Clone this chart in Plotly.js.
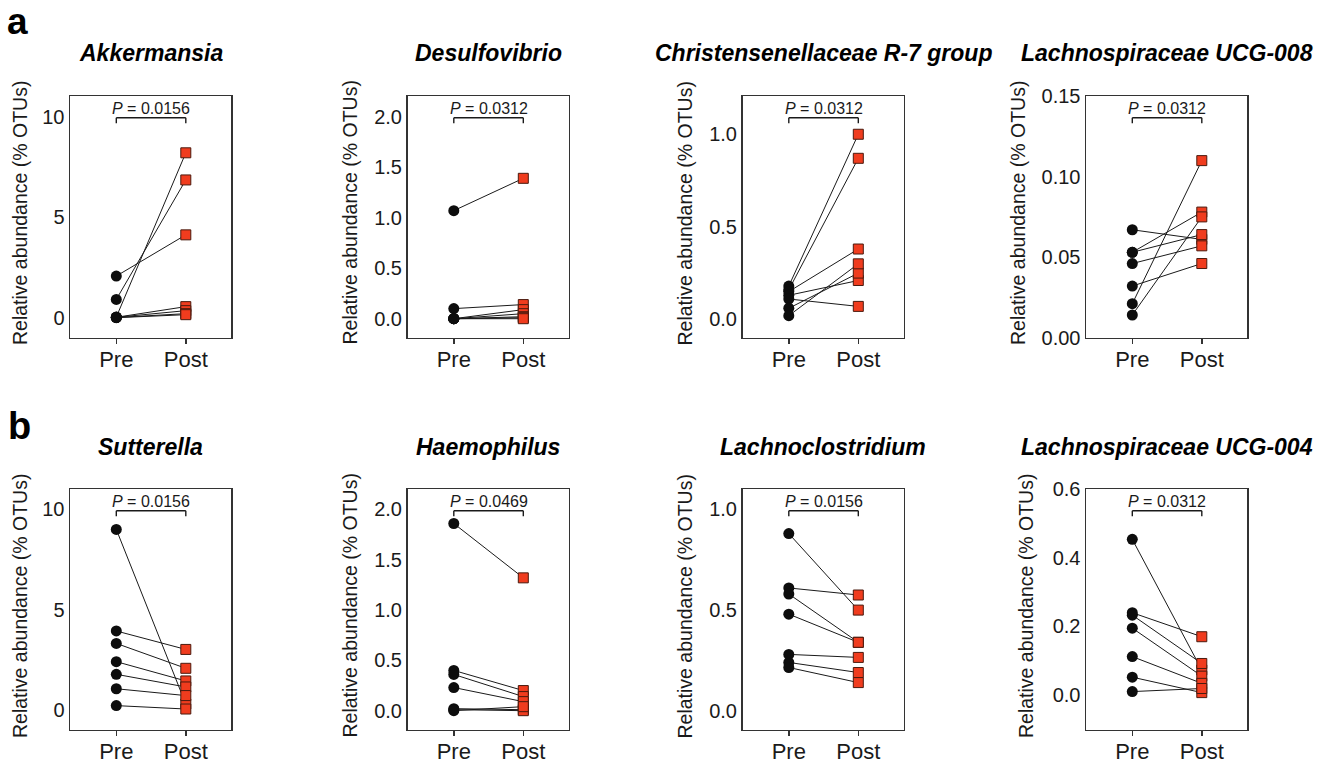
<!DOCTYPE html>
<html>
<head>
<meta charset="utf-8">
<script src="https://cdn.plot.ly/plotly-3.0.1.min.js"></script>
<style>
  html, body { margin: 0; padding: 0; background: #ffffff; }
  #chart { width: 1327px; height: 765px; }
</style>
</head>
<body>
<div id="chart"></div>
<script>
// Paired relative abundances (% OTUs) before and after, one entry per subject.
const groups = ['Pre', 'Post'];

const taxa = [
  'Akkermansia', 'Desulfovibrio', 'Christensenellaceae R-7 group', 'Lachnospiraceae UCG-008',
  'Sutterella', 'Haemophilus', 'Lachnoclostridium', 'Lachnospiraceae UCG-004'
];
const pValues = ['0.0156', '0.0312', '0.0312', '0.0312', '0.0156', '0.0469', '0.0156', '0.0312'];

const akkermansiaPre  = [2.07, 0.91, 0.03, 0.02, 0.02, 0.01, 0.00];
const akkermansiaPost = [4.12, 6.85, 8.20, 0.55, 0.35, 0.20, 0.15];

const desulfovibrioPre  = [1.07, 0.10, 0.00, 0.00, 0.00, 0.00, 0.00];
const desulfovibrioPost = [1.39, 0.14, 0.09, 0.05, 0.02, 0.01, 0.00];

const christensenellaceaePre  = [0.18, 0.16, 0.15, 0.13, 0.11, 0.06, 0.02];
const christensenellaceaePost = [1.00, 0.87, 0.38, 0.21, 0.07, 0.25, 0.30];

const lachnoUCG008Pre  = [0.067, 0.053, 0.053, 0.046, 0.032, 0.021, 0.014];
const lachnoUCG008Post = [0.061, 0.078, 0.064, 0.057, 0.046, 0.110, 0.075];

const sutterellaPre  = [9.00, 3.94, 3.32, 2.41, 1.78, 1.06, 0.22];
const sutterellaPost = [0.30, 3.02, 2.08, 1.45, 1.15, 0.72, 0.05];

const haemophilusPre  = [1.86, 0.40, 0.36, 0.23, 0.02, 0.01, 0.00];
const haemophilusPost = [1.32, 0.20, 0.14, 0.09, 0.01, 0.00, 0.04];

const lachnoclostridiumPre  = [0.88, 0.61, 0.58, 0.48, 0.28, 0.24, 0.215];
const lachnoclostridiumPost = [0.50, 0.575, 0.34, 0.34, 0.265, 0.19, 0.14];

const lachnoUCG004Pre  = [0.454, 0.240, 0.233, 0.195, 0.112, 0.052, 0.010];
const lachnoUCG004Post = [0.073, 0.170, 0.092, 0.055, 0.034, 0.007, 0.019];

// y-axis tick values for each panel
const ticksAkkermansia = [0, 5, 10];
const ticksDesulfovibrio = [0, 0.5, 1.0, 1.5, 2.0];
const ticksChristensenellaceae = [0, 0.5, 1.0];
const ticksLachnoUCG008 = [0, 0.05, 0.10, 0.15];
const ticksSutterella = [0, 5, 10];
const ticksHaemophilus = [0, 0.5, 1.0, 1.5, 2.0];
const ticksLachnoclostridium = [0, 0.5, 1.0];
const ticksLachnoUCG004 = [0, 0.2, 0.4, 0.6];

const panels = [
  { pre: akkermansiaPre, post: akkermansiaPost, ticks: ticksAkkermansia, fmt: 'd', range: [-0.985, 11.01], titleGap: 50 },
  { pre: desulfovibrioPre, post: desulfovibrioPost, ticks: ticksDesulfovibrio, fmt: '.1f', range: [-0.186, 2.202], titleGap: 58 },
  { pre: christensenellaceaePre, post: christensenellaceaePost, ticks: ticksChristensenellaceae, fmt: '.1f', range: [-0.098, 1.205], titleGap: 58 },
  { pre: lachnoUCG008Pre, post: lachnoUCG008Post, ticks: ticksLachnoUCG008, fmt: '.2f', range: [0, 0.15], titleGap: 68 },
  { pre: sutterellaPre, post: sutterellaPost, ticks: ticksSutterella, fmt: 'd', range: [-0.97, 11.0], titleGap: 50 },
  { pre: haemophilusPre, post: haemophilusPost, ticks: ticksHaemophilus, fmt: '.1f', range: [-0.187, 2.2], titleGap: 58 },
  { pre: lachnoclostridiumPre, post: lachnoclostridiumPost, ticks: ticksLachnoclostridium, fmt: '.1f', range: [-0.093, 1.1], titleGap: 58 },
  { pre: lachnoUCG004Pre, post: lachnoUCG004Post, ticks: ticksLachnoUCG004, fmt: '.1f', range: [-0.1006, 0.6], titleGap: 60 }
];

// page geometry (pixels)
const W = 1327, H = 765;
const colLeft = [70, 407.5, 742.5, 1086];
const boxW = 161;
const rowTop = [96.3, 489.3];
const rowBottom = [337.5, 729.5];
const titleY = [53.5, 446.5];
const yTitleY = [213, 606];

const FONT = 'Liberation Sans, Arial, Helvetica, sans-serif';
const INK = '#1a1a1a';
const AXIS = '#333333';
const RED = '#f03c1e';

const fx = px => px / W;
const fy = py => 1 - py / H;

const traces = [];
const layout = {
  width: W, height: H,
  margin: { l: 0, r: 0, t: 0, b: 0 },
  paper_bgcolor: '#ffffff',
  plot_bgcolor: '#ffffff',
  showlegend: false,
  font: { family: FONT, color: INK },
  shapes: [],
  annotations: []
};

panels.forEach((p, i) => {
  const row = Math.floor(i / 4), col = i % 4;
  const suffix = i === 0 ? '' : String(i + 1);
  const xa = 'x' + suffix, ya = 'y' + suffix;
  const left = colLeft[col], right = colLeft[col] + boxW;
  const top = rowTop[row], bottom = rowBottom[row];

  // connecting lines for each subject
  const lx = [], ly = [];
  p.pre.forEach((v, j) => { lx.push(0, 1, null); ly.push(v, p.post[j], null); });
  traces.push({
    type: 'scatter', mode: 'lines', x: lx, y: ly, xaxis: xa, yaxis: ya,
    line: { color: INK, width: 1 }, hoverinfo: 'skip', cliponaxis: false
  });
  traces.push({
    type: 'scatter', mode: 'markers', x: p.post.map(() => 1), y: p.post,
    xaxis: xa, yaxis: ya, cliponaxis: false,
    marker: { symbol: 'square', size: 10, color: RED, line: { color: '#4a1a0e', width: 1 } }
  });
  traces.push({
    type: 'scatter', mode: 'markers', x: p.pre.map(() => 0), y: p.pre,
    xaxis: xa, yaxis: ya, cliponaxis: false,
    marker: { symbol: 'circle', size: 11, color: '#0d0d0d', line: { width: 0 } }
  });

  layout['xaxis' + suffix] = {
    domain: [fx(left), fx(right)], anchor: ya,
    range: [-0.666, 1.65], tickvals: [0, 1], ticktext: groups,
    ticks: 'outside', ticklen: 5, tickwidth: 1.5, tickcolor: AXIS,
    ticklabelstandoff: -3,
    showline: true, mirror: true, linecolor: AXIS, linewidth: 1.5,
    showgrid: false, zeroline: false, fixedrange: true,
    tickfont: { size: 22, color: INK, family: FONT }
  };
  layout['yaxis' + suffix] = {
    domain: [fy(bottom), fy(top)], anchor: xa,
    range: p.range, tickvals: p.ticks, tickformat: p.fmt,
    ticks: '', showline: true, mirror: true, linecolor: AXIS, linewidth: 1.5,
    showgrid: false, zeroline: false, fixedrange: true,
    tickfont: { size: 20, color: INK, family: FONT }
  };

  // significance bracket
  const yd = ya + ' domain';
  const bar = 0.911, leg = 0.888;
  const bl = { color: INK, width: 1.4 };
  layout.shapes.push(
    { type: 'line', xref: xa, yref: yd, x0: 0, x1: 1, y0: bar, y1: bar, line: bl },
    { type: 'line', xref: xa, yref: yd, x0: 0, x1: 0, y0: bar, y1: leg, line: bl },
    { type: 'line', xref: xa, yref: yd, x0: 1, x1: 1, y0: bar, y1: leg, line: bl }
  );
  layout.annotations.push({
    xref: xa, yref: yd, x: 0.5, y: 0.948, xanchor: 'center', yanchor: 'middle',
    text: '<i>P</i> = ' + pValues[i], showarrow: false,
    font: { size: 16, color: INK, family: FONT }
  });

  // panel title
  layout.annotations.push({
    xref: 'paper', yref: 'paper', x: fx((left + right) / 2), y: fy(titleY[row]),
    xanchor: 'center', yanchor: 'middle', showarrow: false,
    text: '<b><i>' + taxa[i] + '</i></b>',
    font: { size: 23, color: '#000000', family: FONT }
  });

  // y-axis title
  layout.annotations.push({
    xref: 'paper', yref: 'paper', x: fx(left - p.titleGap), y: fy(yTitleY[row]),
    xanchor: 'center', yanchor: 'middle', showarrow: false, textangle: -90,
    text: 'Relative abundance (% OTUs)',
    font: { size: 19.5, color: INK, family: FONT }
  });
});

// panel letters
layout.annotations.push({
  xref: 'paper', yref: 'paper', x: fx(6), y: 1, borderpad: 0,
  xanchor: 'left', yanchor: 'top', showarrow: false,
  text: '<b>a</b>', font: { size: 37, color: '#000000', family: FONT }
});
layout.annotations.push({
  xref: 'paper', yref: 'paper', x: fx(6), y: fy(426),
  xanchor: 'left', yanchor: 'middle', showarrow: false,
  text: '<b>b</b>', font: { size: 38, color: '#000000', family: FONT }
});

Plotly.newPlot('chart', traces, layout, { staticPlot: true, displayModeBar: false });
</script>
</body>
</html>
